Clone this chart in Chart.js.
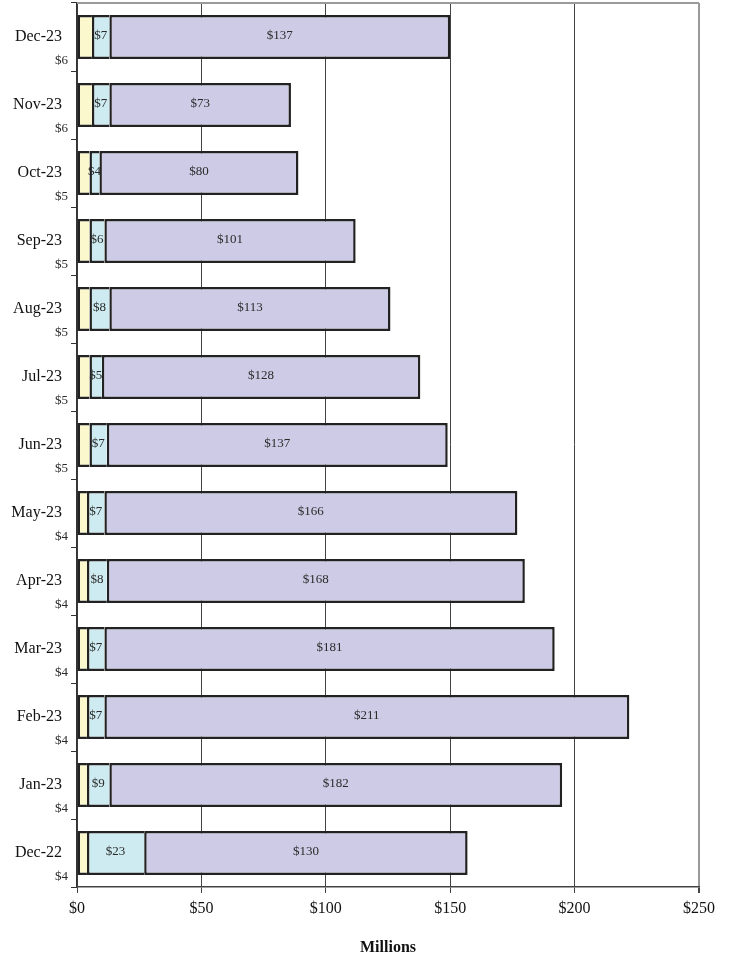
<!DOCTYPE html>
<html>
<head>
<meta charset="utf-8">
<script src="https://cdn.jsdelivr.net/npm/chart.js@4/dist/chart.umd.min.js"></script>
<style>
  html, body { margin: 0; padding: 0; background: #fff; }
  #wrap { width: 733px; height: 960px; }
</style>
</head>
<body>
<div id="wrap"><canvas id="c" width="733" height="960"></canvas></div>
<script>
// Monthly amounts in millions, split into three components
const months = ['Dec-22','Jan-23','Feb-23','Mar-23','Apr-23','May-23','Jun-23','Jul-23','Aug-23','Sep-23','Oct-23','Nov-23','Dec-23'];
const partA = [4, 4, 4, 4, 4, 4, 5, 5, 5, 5, 5, 6, 6];
const partB = [23, 9, 7, 7, 8, 7, 7, 5, 8, 6, 4, 7, 7];
const partC = [130, 182, 211, 181, 168, 166, 137, 128, 113, 101, 80, 73, 137];
const xTicks = [0, 50, 100, 150, 200, 250];

const serif = "'Liberation Serif', 'Times New Roman', serif";
const money = v => '$' + v;

// Draws the value labels: first part to the left of the axis, others inside their segments
const valueLabels = {
  id: 'valueLabels',
  afterDatasetsDraw(chart) {
    const ctx = chart.ctx;
    ctx.save();
    ctx.font = '13px ' + serif;
    ctx.fillStyle = '#2a2a2a';
    chart.data.datasets.forEach((ds, di) => {
      const meta = chart.getDatasetMeta(di);
      meta.data.forEach((bar, i) => {
        const p = bar.getProps(['x', 'y', 'base', 'height'], true);
        const text = money(ds.data[i]);
        ctx.textBaseline = 'middle';
        if (di === 0) {
          ctx.textAlign = 'right';
          ctx.fillText(text, chart.chartArea.left - 9, p.y + p.height / 2 + 1);
        } else {
          ctx.textAlign = 'center';
          ctx.fillText(text, (p.x + p.base) / 2, p.y - 1);
        }
      });
    });
    ctx.restore();
  }
};

// Light frame along the top of the plot area
const topFrame = {
  id: 'topFrame',
  beforeDatasetsDraw(chart) {
    const { ctx, chartArea: a } = chart;
    ctx.save();
    ctx.strokeStyle = '#9a9a9a';
    ctx.lineWidth = 2;
    ctx.beginPath();
    ctx.moveTo(a.left, a.top);
    ctx.lineTo(a.right, a.top);
    ctx.stroke();
    ctx.restore();
  }
};

// Inner segments skip their right edge so neighbouring segments share one outline
const common = { borderColor: '#222', borderWidth: 2.5, barPercentage: 0.65, categoryPercentage: 1 };

new Chart(document.getElementById('c'), {
  type: 'bar',
  data: {
    labels: months,
    datasets: [
      Object.assign({ label: 'A', data: partA, backgroundColor: '#fbf8cd', borderSkipped: 'right' }, common),
      Object.assign({ label: 'B', data: partB, backgroundColor: '#cdebf0', borderSkipped: 'right' }, common),
      Object.assign({ label: 'C', data: partC, backgroundColor: '#cecbe6', borderSkipped: false }, common)
    ]
  },
  options: {
    indexAxis: 'y',
    responsive: false,
    animation: false,
    devicePixelRatio: 1,
    layout: { padding: { top: 3, right: 34, left: 0, bottom: 0 } },
    plugins: { legend: { display: false }, tooltip: { enabled: false } },
    scales: {
      x: {
        stacked: true,
        min: 0,
        max: 250,
        afterBuildTicks: s => { s.ticks = xTicks.map(v => ({ value: v })); },
        afterFit: s => { s.height = 73; s.paddingLeft = 0; s.paddingRight = 0; },
        grid: {
          color: c => (c.tick && c.tick.value === 250) ? '#9a9a9a' : '#444',
          lineWidth: c => (c.tick && c.tick.value === 250) ? 2 : 1,
          tickColor: '#444',
          tickLength: 6
        },
        border: { color: '#444', width: 1.5 },
        ticks: {
          color: '#111',
          font: { family: serif, size: 16 },
          padding: 6,
          callback: v => money(v)
        },
        title: {
          display: true,
          text: 'Millions',
          color: '#111',
          font: { family: serif, size: 16, weight: 'bold' },
          padding: { top: 0, bottom: 3 }
        }
      },
      y: {
        stacked: true,
        reverse: true,
        afterFit: s => { s.width = 77; s.paddingTop = 0; s.paddingBottom = 0; },
        grid: {
          offset: true,
          drawOnChartArea: false,
          tickColor: '#333',
          tickLength: 6
        },
        border: { color: '#333', width: 1.5 },
        ticks: {
          color: '#111',
          font: { family: serif, size: 16 },
          padding: 9
        }
      }
    }
  },
  plugins: [valueLabels, topFrame]
});
</script>
</body>
</html>
